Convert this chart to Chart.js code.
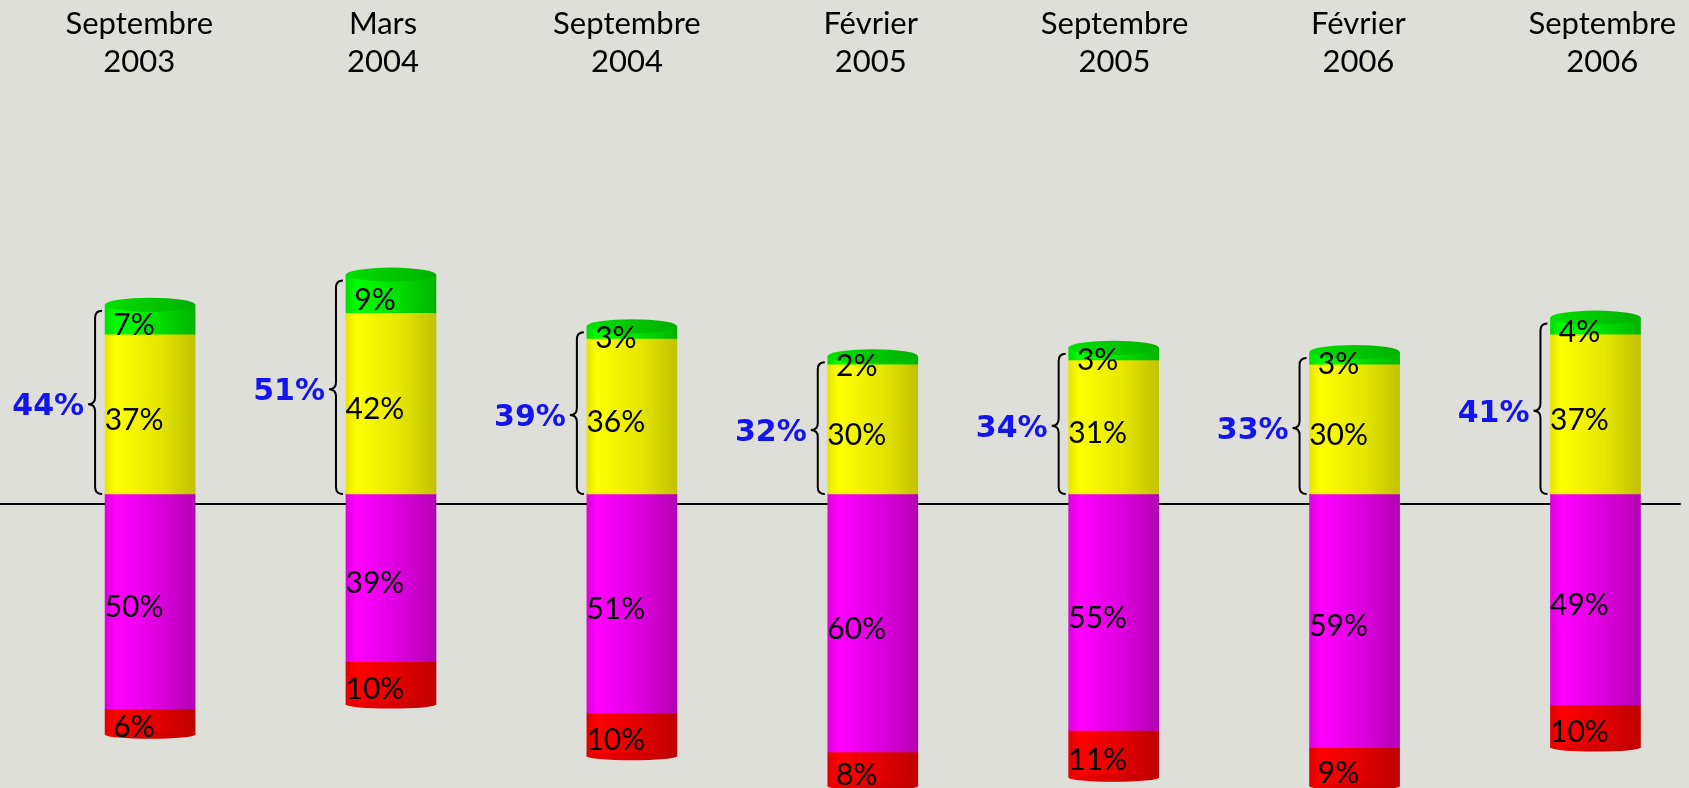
<!DOCTYPE html>
<html>
<head>
<meta charset="utf-8">
<script src="https://cdn.jsdelivr.net/npm/chart.js@4.4.1/dist/chart.umd.min.js"></script>
<style>
html, body { margin: 0; padding: 0; background: #dfdfda; overflow: hidden; }
</style>
</head>
<body>
<canvas id="chart" width="1689" height="788"></canvas>
<script>
// categories (two line labels)
var months = ['Septembre', 'Mars', 'Septembre', 'Février', 'Septembre', 'Février', 'Septembre'];
var years = ['2003', '2004', '2004', '2005', '2005', '2006', '2006'];

// above the line
var green = [7, 9, 3, 2, 3, 3, 4];
var yellow = [37, 42, 36, 30, 31, 30, 37];
// below the line
var magenta = [50, 39, 51, 60, 55, 59, 49];
var red = [6, 10, 10, 8, 11, 9, 10];
// blue totals beside the braces
var totals = [44, 51, 39, 32, 34, 33, 41];

Chart.defaults.font.family = 'Lato';

function pts(arr, sign) {
    return arr.map(function (v, i) { return { x: i, y: sign * v }; });
}

// left-to-right shading so the bars look like cylinders
function cylinder(light, mid, dark) {
    return function (ctx) {
        var chart = ctx.chart;
        var xs = chart.scales.x;
        if (ctx.dataIndex === undefined || !xs || !chart.chartArea) return mid;
        var cx = xs.getPixelForValue(ctx.dataIndex);
        var g = chart.ctx.createLinearGradient(cx - 45, 0, cx + 45, 0);
        g.addColorStop(0, mid);
        g.addColorStop(0.12, light);
        g.addColorStop(0.6, mid);
        g.addColorStop(1, dark);
        return g;
    };
}

var topPlugin = {
    id: 'decor',
    beforeDatasetsDraw: function (chart) {
        var c = chart.ctx;
        var y0 = chart.scales.y.getPixelForValue(0) + 10;
        c.save();
        c.strokeStyle = '#000';
        c.lineWidth = 2;
        c.beginPath();
        c.moveTo(chart.chartArea.left, y0);
        c.lineTo(chart.chartArea.right, y0);
        c.stroke();
        c.restore();
    },
    afterDatasetsDraw: function (chart) {
        var c = chart.ctx;
        var ys = chart.scales.y;
        c.save();

        // caps on the green tops and the red bottoms
        [[1, '#00e000', '#00b000', 7], [3, '#f00000', '#c00000', 4]].forEach(function (d) {
            chart.getDatasetMeta(d[0]).data.forEach(function (el) {
                var g = c.createLinearGradient(el.x - el.width / 2, 0, el.x + el.width / 2, 0);
                g.addColorStop(0, d[1]);
                g.addColorStop(1, d[2]);
                c.fillStyle = g;
                c.beginPath();
                c.ellipse(el.x, el.y, el.width / 2, d[3], 0, 0, Math.PI * 2);
                c.fill();
            });
        });

        // value labels
        c.fillStyle = '#000';
        c.font = '30px Lato';
        c.textAlign = 'center';
        c.textBaseline = 'middle';
        chart.data.datasets.forEach(function (ds, di) {
            chart.getDatasetMeta(di).data.forEach(function (el, i) {
                var v = Math.abs(ds.data[i].y);
                c.fillText(v + '%', el.x - 16, (el.y + el.base) / 2 + 6);
            });
        });

        // braces and blue totals
        var zero = ys.getPixelForValue(0);
        chart.getDatasetMeta(1).data.forEach(function (el, i) {
            var left = el.x - el.width / 2;
            var top = ys.getPixelForValue(totals[i]) + 6;
            var bottom = zero;
            var mid = (top + bottom) / 2 + 2;
            var x = left - 3, w = 7;
            c.strokeStyle = '#000';
            c.lineWidth = 2;
            c.beginPath();
            c.moveTo(x, top);
            c.quadraticCurveTo(x - w, top, x - w, top + w);
            c.lineTo(x - w, mid - w);
            c.quadraticCurveTo(x - w, mid, x - 2 * w, mid);
            c.quadraticCurveTo(x - w, mid, x - w, mid + w);
            c.lineTo(x - w, bottom - w);
            c.quadraticCurveTo(x - w, bottom, x, bottom);
            c.stroke();

            c.fillStyle = '#1414f0';
            c.font = 'bold 30px "DejaVu Sans"';
            c.textAlign = 'right';
            c.fillText(totals[i] + '%', left - 21, mid + 3);
        });
        c.restore();
    }
};

new Chart(document.getElementById('chart'), {
    type: 'bar',
    data: {
        datasets: [
            { label: 'yellow', data: pts(yellow, 1), backgroundColor: cylinder('#ffff00', '#e6e600', '#c2c200') },
            { label: 'green', data: pts(green, 1), backgroundColor: cylinder('#00ff00', '#00dd00', '#00b400') },
            { label: 'magenta', data: pts(magenta, -1), backgroundColor: cylinder('#ff00ff', '#dd00dd', '#b400b4') },
            { label: 'red', data: pts(red, -1), backgroundColor: cylinder('#ff0000', '#e00000', '#c00000') }
        ]
    },
    options: {
        responsive: false,
        animation: false,
        layout: { padding: 0 },
        datasets: { bar: { barThickness: 90, borderWidth: 0, xAxisID: 'x', yAxisID: 'y' } },
        plugins: { legend: { display: false }, tooltip: { enabled: false } },
        scales: {
            x: {
                type: 'linear', stacked: true, display: false, offset: false,
                min: -0.623, max: 6.354
            },
            xTop: {
                type: 'linear', axis: 'x', position: 'top', offset: false,
                min: -0.571, max: 6.322,
                grid: { display: false, drawTicks: false, offset: false },
                border: { display: false },
                afterFit: function (s) { s.height = 94; },
                ticks: {
                    stepSize: 1, includeBounds: false, autoSkip: false, maxRotation: 0,
                    padding: 13, color: '#000',
                    font: { size: 31, lineHeight: 1.22 },
                    callback: function (v) {
                        var i = Math.round(v);
                        if (Math.abs(v - i) > 1e-6 || i < 0 || i >= months.length) return null;
                        return [months[i], years[i]];
                    }
                }
            },
            y: {
                stacked: true, display: false,
                min: -68.4, max: 93
            }
        }
    },
    plugins: [topPlugin]
});
</script>
</body>
</html>
